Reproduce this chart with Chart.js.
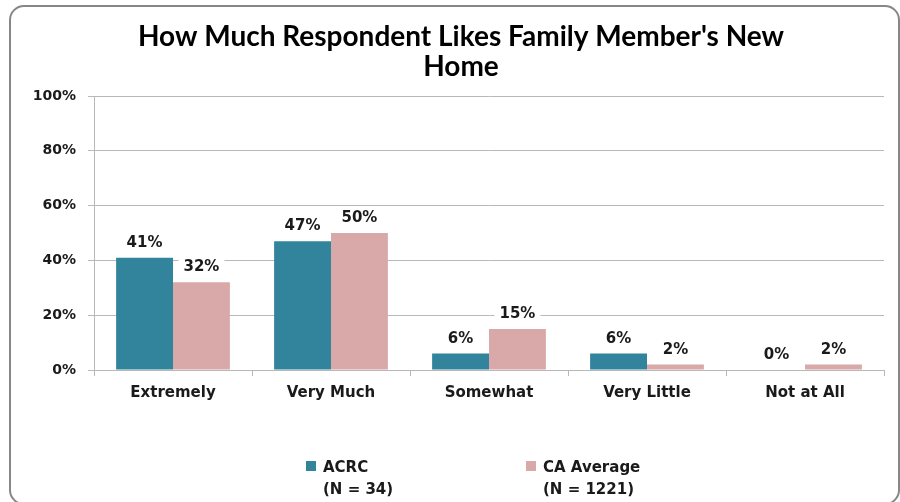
<!DOCTYPE html>
<html>
<head>
<meta charset="utf-8">
<script src="https://cdn.jsdelivr.net/npm/chart.js@4.4.1/dist/chart.umd.min.js"></script>
<style>
  html, body { margin: 0; padding: 0; background: #ffffff; }
  #wrap { width: 900px; height: 502px; }
</style>
</head>
<body>
<div id="wrap"><canvas id="c" width="900" height="502"></canvas></div>
<script>
const categories = ["Extremely", "Very Much", "Somewhat", "Very Little", "Not at All"];
const acrcValues = [41, 47, 6, 6, 0];
const caValues = [32, 50, 15, 2, 2];
const acrcLegend = ["ACRC", "(N = 34)"];
const caLegend = ["CA Average", "(N = 1221)"];
const titleLines = ["How Much Respondent Likes Family Member's New", "Home"];
const yTicks = [0, 20, 40, 60, 80, 100];

const TEAL = "#31849B";
const PINK = "#D9A8A8";
const GRID = "#B8B8B8";
const LABEL_FONT = "bold 15px 'DejaVu Sans', Verdana, sans-serif";
const TITLE_FONT = "bold 28px Lato, 'Liberation Sans', sans-serif";

const borderPlugin = {
  id: "outerBorder",
  beforeDraw(chart) {
    const ctx = chart.ctx;
    ctx.save();
    ctx.fillStyle = "#ffffff";
    ctx.fillRect(0, 0, chart.width, chart.height);
    ctx.strokeStyle = "#878787";
    ctx.lineWidth = 2;
    ctx.beginPath();
    ctx.roundRect(10, 6, 889, 498, 14);
    ctx.stroke();
    ctx.restore();
  }
};

const titlePlugin = {
  id: "twoLineTitle",
  afterDraw(chart) {
    const ctx = chart.ctx;
    ctx.save();
    ctx.font = TITLE_FONT;
    ctx.fillStyle = "#000000";
    ctx.textAlign = "center";
    ctx.textBaseline = "alphabetic";
    titleLines.forEach((ln, k) => ctx.fillText(ln, 461, 46 + k * 30));
    ctx.restore();
  }
};

const valueLabelPlugin = {
  id: "valueLabels",
  afterDatasetsDraw(chart) {
    const ctx = chart.ctx;
    ctx.save();
    ctx.font = LABEL_FONT;
    ctx.textAlign = "center";
    ctx.textBaseline = "alphabetic";
    chart.data.datasets.forEach((ds, di) => {
      const meta = chart.getDatasetMeta(di);
      meta.data.forEach((bar, i) => {
        const txt = ds.data[i] + "%";
        const w = ctx.measureText(txt).width;
        const by = bar.y - 11;
        ctx.fillStyle = "#ffffff";
        ctx.fillRect(bar.x - w / 2 - 5, by - 15, w + 10, 19);
        ctx.fillStyle = "#1a1a1a";
        ctx.fillText(txt, bar.x, by);
      });
    });
    ctx.restore();
  }
};

const legendPlugin = {
  id: "twoLineLegend",
  afterDraw(chart) {
    const ctx = chart.ctx;
    ctx.save();
    ctx.font = LABEL_FONT;
    ctx.textAlign = "left";
    ctx.textBaseline = "alphabetic";
    const items = [
      { color: TEAL, lines: acrcLegend, x: 306 },
      { color: PINK, lines: caLegend, x: 526 }
    ];
    items.forEach(it => {
      ctx.fillStyle = it.color;
      ctx.fillRect(it.x, 461, 10, 10);
      ctx.fillStyle = "#1a1a1a";
      it.lines.forEach((ln, k) => ctx.fillText(ln, it.x + 17, 472 + k * 22));
    });
    ctx.restore();
  }
};

new Chart(document.getElementById("c"), {
  type: "bar",
  data: {
    labels: categories,
    datasets: [
      { label: acrcLegend.join(" "), data: acrcValues, backgroundColor: TEAL, borderWidth: 0 },
      { label: caLegend.join(" "), data: caValues, backgroundColor: PINK, borderWidth: 0 }
    ]
  },
  options: {
    responsive: false,
    animation: false,
    devicePixelRatio: 1,
    categoryPercentage: 0.72,
    barPercentage: 1,
    layout: { padding: { left: 14, right: 16, top: 96, bottom: 0 } },
    plugins: {
      legend: { display: false },
      tooltip: { enabled: false },
      title: { display: false }
    },
    scales: {
      x: {
        grid: { display: true, drawOnChartArea: false, drawTicks: true, tickLength: 6, color: GRID },
        border: { display: true, color: GRID, width: 1 },
        ticks: { color: "#1a1a1a", font: { family: "'DejaVu Sans', Verdana, sans-serif", size: 15, weight: "bold" }, padding: 8, maxRotation: 0 },
        afterFit(scale) { scale.height = 132; }
      },
      y: {
        min: 0,
        max: 100,
        afterBuildTicks(scale) { scale.ticks = yTicks.map(v => ({ value: v })); },
        grid: { display: true, drawTicks: true, tickLength: 6, color: GRID, lineWidth: 1 },
        border: { display: true, color: GRID, width: 1 },
        ticks: {
          color: "#1a1a1a",
          font: { family: "'DejaVu Sans', Verdana, sans-serif", size: 14, weight: "bold" },
          padding: 12,
          callback: v => v + "%"
        },
        afterFit(scale) { scale.width = 80; }
      }
    }
  },
  plugins: [borderPlugin, valueLabelPlugin, legendPlugin, titlePlugin]
});
</script>
</body>
</html>
